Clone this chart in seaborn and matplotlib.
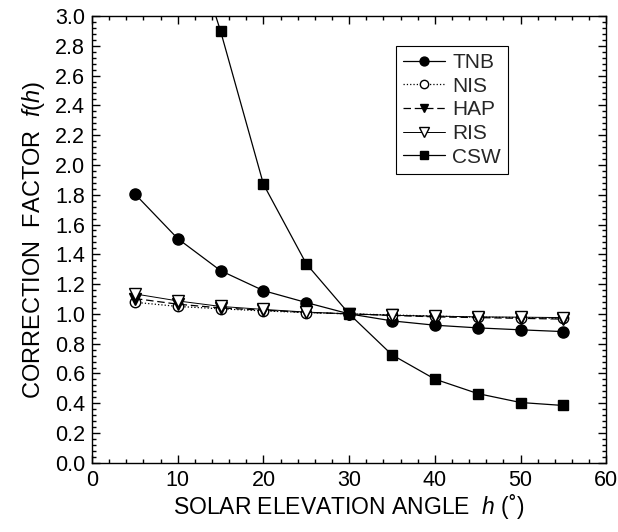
import numpy as np
import pandas as pd
import seaborn as sns
import matplotlib.pyplot as plt
from matplotlib.ticker import MultipleLocator

# solar elevation angle (deg)
h = [5, 10, 15, 20, 25, 30, 35, 40, 45, 50, 55]

tnb = [1.805, 1.505, 1.29, 1.156, 1.076, 1.0, 0.953, 0.924, 0.906, 0.893, 0.881]
nis = [1.078, 1.05, 1.034, 1.02, 1.009, 1.0, 0.993, 0.985, 0.978, 0.975, 0.97]
hap = [1.103, 1.065, 1.04, 1.025, 1.01, 1.0, 0.99, 0.98, 0.975, 0.97, 0.965]
ris = [1.134, 1.087, 1.05, 1.03, 1.012, 1.0, 0.99, 0.985, 0.98, 0.978, 0.975]
csw = [5.5, 3.8, 2.897, 1.87, 1.336, 1.0, 0.725, 0.562, 0.465, 0.405, 0.385]

sns.set_style("ticks")
plt.rcParams['font.family'] = ['Liberation Sans', 'DejaVu Sans']
plt.rcParams['mathtext.fontset'] = 'custom'
plt.rcParams['mathtext.it'] = 'Liberation Sans:italic'
plt.rcParams['mathtext.rm'] = 'Liberation Sans'

fig, ax = plt.subplots(figsize=(6.18, 5.32), dpi=100)
plt.subplots_adjust(left=0.149, right=0.981, top=0.970, bottom=0.130)

series = [
    ("TNB", tnb, dict(marker='o', mfc='black', ms=8, ls='-', lw=0.9)),
    ("NIS", nis, dict(marker='o', mfc='white', ms=7.5, ls=':', lw=0.9)),
    ("HAP", hap, dict(marker='v', mfc='black', ms=8, ls=(0, (6, 3)), lw=0.9)),
    ("RIS", ris, dict(marker='v', mfc='white', ms=8.5, ls='-', lw=0.7)),
    ("CSW", csw, dict(marker='s', mfc='black', ms=6.5, ls='-', lw=0.9)),
]

for name, vals, st in series:
    df = pd.DataFrame({'h': h, 'f': vals})
    sns.lineplot(data=df, x='h', y='f', ax=ax, color='black', label=name,
                 marker=st['marker'], markersize=st['ms'],
                 markerfacecolor=st['mfc'], markeredgecolor='black',
                 markeredgewidth=1.0, linestyle=st['ls'], linewidth=st['lw'])

ax.set_xlim(0, 60)
ax.set_ylim(0, 3.0)
ax.xaxis.set_major_locator(MultipleLocator(10))
ax.xaxis.set_minor_locator(MultipleLocator(2))
ax.yaxis.set_major_locator(MultipleLocator(0.2))
ax.yaxis.set_minor_locator(MultipleLocator(0.04))
ax.yaxis.set_major_formatter(plt.FormatStrFormatter('%.1f'))
ax.tick_params(which='both', direction='in', top=True, right=True, colors='black',
               labelsize=15.5)
ax.tick_params(which='major', length=6, width=1, pad=5)
ax.tick_params(which='minor', length=3, width=1)
for sp in ax.spines.values():
    sp.set_color('black')
    sp.set_linewidth(1)

ax.set_xlabel(r"SOLAR ELEVATION ANGLE  $\it{h}$ (˚)", fontsize=16.5, color='black', labelpad=1)
ax.set_ylabel(r"CORRECTION  FACTOR  $\it{f(h)}$", fontsize=17, color='black', labelpad=6)

leg = ax.legend(loc='upper left', bbox_to_anchor=(0.591, 0.933), fancybox=False,
                edgecolor='black', framealpha=1, handlelength=2.0, fontsize=15,
                borderpad=0.35, labelspacing=0.22, handletextpad=0.35,
                borderaxespad=0, markerscale=0.8)
leg.get_frame().set_linewidth(0.8)

fig.savefig("out.png", dpi=100)
